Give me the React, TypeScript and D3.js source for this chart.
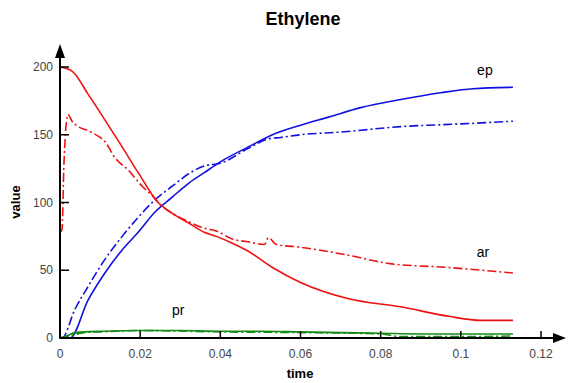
import * as d3 from "d3";

// sampled reading of the curves (time, value)
const epSolidT = [0, 0.0025, 0.007, 0.0112, 0.0155, 0.0195, 0.0237, 0.028, 0.032, 0.036, 0.04, 0.047, 0.053, 0.06, 0.067, 0.075, 0.085, 0.095, 0.103, 0.113];
const epSolidV = [0, 0, 28, 48, 65, 78, 93, 104, 114, 122, 130, 141, 150, 157, 163, 170, 176, 181, 184, 185];

const epDashT = [0, 0.0005, 0.0037, 0.007, 0.0112, 0.0155, 0.0195, 0.0237, 0.028, 0.032, 0.036, 0.04, 0.047, 0.052, 0.055, 0.06, 0.07, 0.085, 0.1, 0.113];
const epDashV = [0, 0, 21, 38, 58, 75, 89, 102, 112, 121, 127, 129, 140, 147, 148, 150, 152, 156, 158, 160];

const arSolidT = [0, 0.003, 0.007, 0.0112, 0.0155, 0.0195, 0.0245, 0.028, 0.032, 0.036, 0.039, 0.043, 0.047, 0.053, 0.06, 0.072, 0.085, 0.097, 0.105, 0.113];
const arSolidV = [200, 197, 180, 161, 141, 122, 100, 92, 85, 78, 75, 70, 64, 52, 41, 29, 23, 16, 13, 13];

const arDashT = [0, 0.0005, 0.001, 0.002, 0.003, 0.0045, 0.007, 0.0095, 0.0112, 0.0137, 0.017, 0.0205, 0.023, 0.0245, 0.028, 0.032, 0.036, 0.039, 0.043, 0.047, 0.051, 0.052, 0.054, 0.06, 0.072, 0.082, 0.097, 0.113];
const arDashV = [78, 80, 130, 165, 160, 156, 153, 149, 145, 133, 124, 112, 105, 100, 92, 86, 81, 79, 73, 71, 69, 74, 69, 67, 61, 55, 52, 48];

const prSolidT = [0, 0.002, 0.0037, 0.011, 0.02, 0.03, 0.04, 0.05, 0.06, 0.07, 0.08, 0.09, 0.1, 0.113];
const prSolidV = [0, 2, 4, 5, 5.5, 5.5, 5, 5, 4.5, 4, 3.5, 3, 3, 3];

const prDashT = [0, 0.003, 0.006, 0.01, 0.02, 0.04, 0.06, 0.08, 0.085, 0.1, 0.113];
const prDashV = [0, 2, 4, 4.5, 5.5, 4.5, 4, 3, 1, 1, 1.5];

const xTicks = [0, 0.02, 0.04, 0.06, 0.08, 0.1, 0.12];
const yTicks = [0, 50, 100, 150, 200];

const series = [
  { t: epSolidT, v: epSolidV, color: "#1010e0", dash: "" },
  { t: epDashT, v: epDashV, color: "#1010e0", dash: "9,3,2,3" },
  { t: arSolidT, v: arSolidV, color: "#ee1111", dash: "" },
  { t: arDashT, v: arDashV, color: "#ee1111", dash: "9,3,2,3" },
  { t: prSolidT, v: prSolidV, color: "#168a16", dash: "" },
  { t: prDashT, v: prDashV, color: "#168a16", dash: "9,3,2,3" },
];

const labels = [
  { name: "ep", t: 0.106, v: 194 },
  { name: "ar", t: 0.1055, v: 60 },
  { name: "pr", t: 0.0295, v: 17 },
];

export default function App() {
  const width = 573;
  const height = 383;
  const x = d3.scaleLinear().domain([0, 0.12]).range([60, 541]);
  const y = d3.scaleLinear().domain([0, 200]).range([338, 67]);
  const line = d3
    .line<[number, number]>()
    .x((d) => x(d[0]))
    .y((d) => y(d[1]))
    .curve(d3.curveMonotoneX);
  const font = "Liberation Sans, Arial, sans-serif";

  return (
    <svg
      width={width}
      height={height}
      style={{ position: "absolute", left: 0, top: 0, background: "#fff" }}
      fontFamily={font}
    >
      <text x={303} y={25} textAnchor="middle" fontSize={18} fontWeight="bold">
        Ethylene
      </text>

      {series.map((s, i) => (
        <path
          key={i}
          d={line(s.t.map((t, j) => [t, s.v[j]] as [number, number])) ?? ""}
          fill="none"
          stroke={s.color}
          strokeWidth={1.6}
          strokeDasharray={s.dash || undefined}
        />
      ))}

      {/* axes */}
      <line x1={x(0)} x2={556} y1={y(0)} y2={y(0)} stroke="#000" strokeWidth={2} />
      <path d={`M566,${y(0)} L553,${y(0) - 5} L553,${y(0) + 5} Z`} fill="#000" />
      <line x1={x(0)} x2={x(0)} y1={y(0)} y2={55} stroke="#000" strokeWidth={2} />
      <path d={`M${x(0)},44 L${x(0) - 5},58 L${x(0) + 5},58 Z`} fill="#000" />

      {xTicks.map((t) => (
        <g key={t}>
          <line x1={x(t)} x2={x(t)} y1={y(0)} y2={y(0) - 7} stroke="#000" strokeWidth={1.5} />
          <text x={x(t)} y={358} textAnchor="middle" fontSize={12} fill="#444">
            {t}
          </text>
        </g>
      ))}
      {yTicks.map((v) => (
        <g key={v}>
          <line x1={x(0) - 1} x2={x(0) + 9} y1={y(v)} y2={y(v)} stroke="#000" strokeWidth={1.5} />
          <text x={53} y={y(v) + 4} textAnchor="end" fontSize={12} fill="#444">
            {v}
          </text>
        </g>
      ))}

      <text x={300} y={378} textAnchor="middle" fontSize={13} fontWeight="bold">
        time
      </text>
      <text
        transform="translate(20,202) rotate(-90)"
        textAnchor="middle"
        fontSize={13}
        fontWeight="bold"
      >
        value
      </text>

      {labels.map((l) => (
        <text key={l.name} x={x(l.t)} y={y(l.v)} textAnchor="middle" fontSize={14}>
          {l.name}
        </text>
      ))}
    </svg>
  );
}
